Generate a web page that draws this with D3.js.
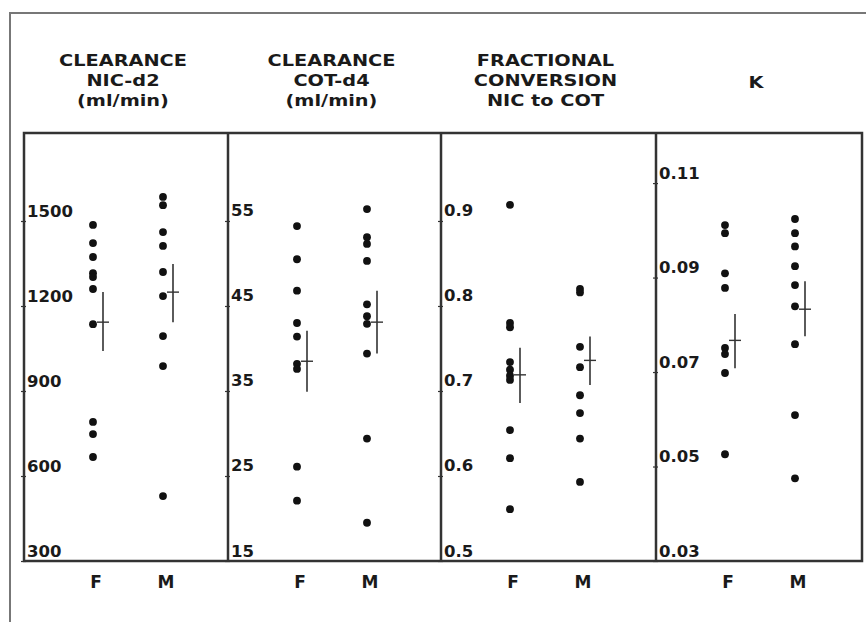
<!DOCTYPE html>
<html><head><meta charset="utf-8">
<script src="https://cdn.jsdelivr.net/npm/d3@7"></script>
<style>
html,body{margin:0;padding:0;background:#fff;}
svg{display:block;}
text{font-family:"DejaVu Sans","Liberation Sans",sans-serif;font-weight:bold;fill:#1a1a1a;}
</style></head>
<body>
<svg id="chart" width="866" height="622"></svg>
<script>
// ---- data ----
const groups = ["F", "M"];
const titles = [
  ["CLEARANCE", "NIC-d2", "(ml/min)"],
  ["CLEARANCE", "COT-d4", "(ml/min)"],
  ["FRACTIONAL", "CONVERSION", "NIC to COT"],
  ["K"]
];
const nicF = [1486, 1422, 1373, 1316, 1302, 1260, 1136, 791, 748, 667];
const nicM = [1585, 1556, 1461, 1412, 1320, 1235, 1094, 988, 529];
const cotF = [54.4, 50.5, 46.8, 43.0, 41.4, 38.2, 37.6, 26.1, 22.1];
const cotM = [56.4, 53.1, 52.3, 50.3, 45.2, 43.8, 42.9, 39.4, 29.4, 19.5];
const fracF = [0.919, 0.780, 0.775, 0.734, 0.725, 0.718, 0.713, 0.654, 0.621, 0.561];
const fracM = [0.820, 0.816, 0.752, 0.728, 0.695, 0.674, 0.644, 0.593];
const kF = [0.1011, 0.0994, 0.0909, 0.0878, 0.0751, 0.0738, 0.0698, 0.0526];
const kM = [0.1024, 0.0994, 0.0966, 0.0924, 0.0884, 0.0839, 0.0759, 0.0609, 0.0475];
// mean, lower, upper (F then M)
const nicMean = [[1143, 1041, 1249], [1249, 1143, 1348]];
const cotMean = [[38.5, 34.9, 42.1], [43.1, 39.4, 46.8]];
const fracMean = [[0.719, 0.686, 0.751], [0.736, 0.707, 0.764]];
const kMean = [[0.0767, 0.0708, 0.0823], [0.0833, 0.0776, 0.0892]];
const nicTicks = [300, 600, 900, 1200, 1500];
const cotTicks = [15, 25, 35, 45, 55];
const fracTicks = [0.5, 0.6, 0.7, 0.8, 0.9];
const kTicks = [0.03, 0.05, 0.07, 0.09, 0.11];
const nicTickLabels = ["300", "600", "900", "1200", "1500"];
const cotTickLabels = ["15", "25", "35", "45", "55"];
const fracTickLabels = ["0.5", "0.6", "0.7", "0.8", "0.9"];
const kTickLabels = ["0.03", "0.05", "0.07", "0.09", "0.11"];
const yDomains = [[300, 1810.6], [15, 65.35], [0.5, 1.0035], [0.03, 0.1206]];

const panels = [
  {title: titles[0], data: [nicF, nicM], means: nicMean, ticks: nicTicks, labels: nicTickLabels, dom: yDomains[0]},
  {title: titles[1], data: [cotF, cotM], means: cotMean, ticks: cotTicks, labels: cotTickLabels, dom: yDomains[1]},
  {title: titles[2], data: [fracF, fracM], means: fracMean, ticks: fracTicks, labels: fracTickLabels, dom: yDomains[2]},
  {title: titles[3], data: [kF, kM], means: kMean, ticks: kTicks, labels: kTickLabels, dom: yDomains[3]}
];

// ---- layout ----
const svg = d3.select("#chart");
const bounds = [24, 228, 441, 656, 862];
const boxTop = 133, boxBottom = 561;

// outer frame
svg.append("path").attr("d", "M10,640 L10,13 L880,13")
  .attr("fill", "none").attr("stroke", "#777").attr("stroke-width", 2);

panels.forEach((p, i) => {
  const left = bounds[i], right = bounds[i + 1];
  const cx = (left + right) / 2;
  const x = d3.scalePoint().domain(groups).range([left + 69, left + 139]);
  const y = d3.scaleLinear().domain(p.dom).range([boxBottom, boxTop]);
  const g = svg.append("g");

  // header (slightly widened glyphs, like the scanned original)
  const n = p.title.length;
  const baselines = n === 1 ? [88] : [66, 86, 106];
  g.selectAll("text.title").data(p.title).enter().append("text")
    .attr("class", "title")
    .attr("x", cx - 3).attr("y", (d, k) => baselines[k])
    .attr("text-anchor", "middle").attr("font-size", 16.5)
    .text(d => d)
    .each(function () {
      const w = this.getComputedTextLength();
      d3.select(this).attr("textLength", w * 1.17).attr("lengthAdjust", "spacingAndGlyphs");
    });

  // axis
  const axis = d3.axisLeft(y).tickValues(p.ticks).tickSize(4)
    .tickFormat((d, k) => p.labels[k]);
  const ag = g.append("g").attr("transform", `translate(${left},0)`).call(axis);
  ag.select(".domain").remove();
  ag.selectAll(".tick line").attr("stroke", "#333").attr("stroke-width", 1.2).attr("x1", 2).attr("x2", -3);
  ag.selectAll(".tick text")
    .attr("x", 3).attr("dy", -5).attr("text-anchor", "start")
    .attr("font-size", 16.5).attr("font-family", null).style("fill", "#1a1a1a");

  // dots
  groups.forEach((grp, j) => {
    g.selectAll(null).data(p.data[j]).enter().append("circle")
      .attr("cx", x(grp)).attr("cy", d => y(d)).attr("r", 3.9)
      .attr("fill", "#111");
    const m = p.means[j];
    const mx = x(grp) + 10;
    g.append("line").attr("x1", mx).attr("x2", mx)
      .attr("y1", y(m[1])).attr("y2", y(m[2]))
      .attr("stroke", "#333").attr("stroke-width", 1.6);
    g.append("line").attr("x1", mx - 6).attr("x2", mx + 6)
      .attr("y1", y(m[0])).attr("y2", y(m[0]))
      .attr("stroke", "#333").attr("stroke-width", 1.4);
    // group label below box
    g.append("text").attr("x", x(grp) + 3).attr("y", 588)
      .attr("text-anchor", "middle").attr("font-size", 17).text(grp);
  });
});

// inner box and dividers
svg.append("rect").attr("x", bounds[0]).attr("y", boxTop)
  .attr("width", bounds[4] - bounds[0]).attr("height", boxBottom - boxTop)
  .attr("fill", "none").attr("stroke", "#333").attr("stroke-width", 2.5);
svg.selectAll("line.div").data(bounds.slice(1, 4)).enter().append("line")
  .attr("class", "div").attr("x1", d => d).attr("x2", d => d)
  .attr("y1", boxTop).attr("y2", boxBottom)
  .attr("stroke", "#333").attr("stroke-width", 2.5);
</script>
</body></html>
